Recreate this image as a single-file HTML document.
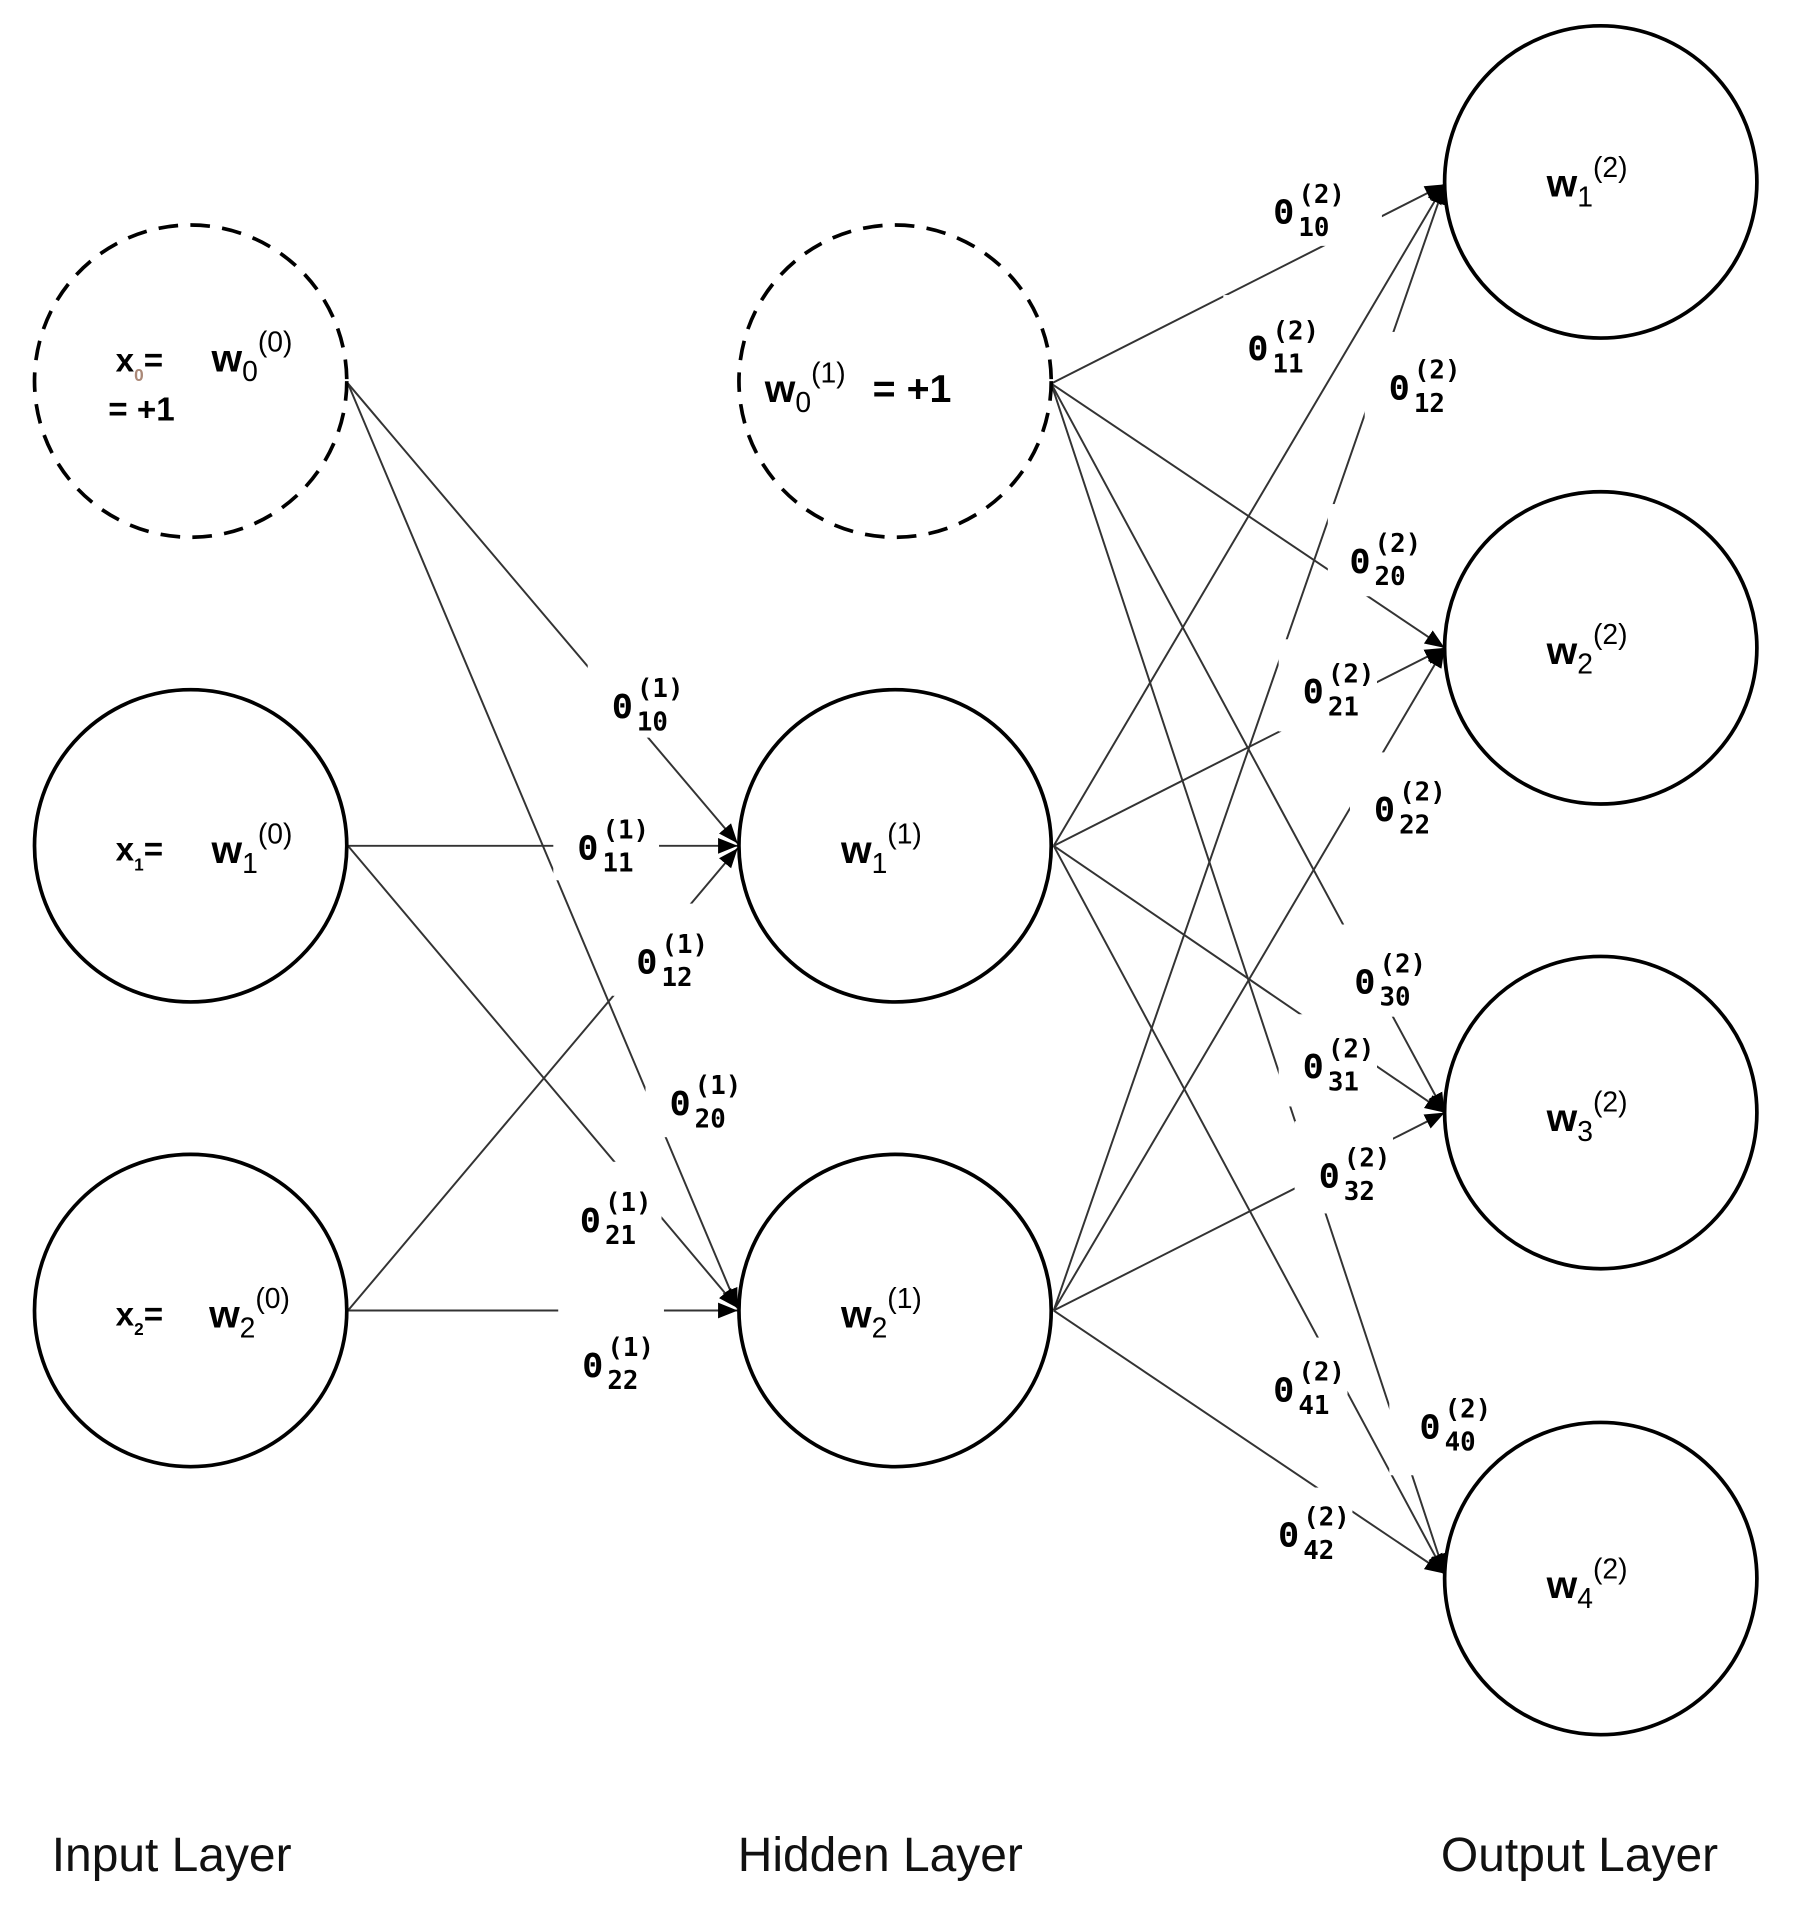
<!DOCTYPE html>
<html><head><style>html,body{margin:0;padding:0;background:#fff}svg{display:block}</style></head><body>
<svg width="1800" height="1924" viewBox="0 0 1464 1565" xmlns="http://www.w3.org/2000/svg" font-family="Liberation Sans, DejaVu Sans, sans-serif">
<defs>
<marker id="b" viewBox="0 0 10 10" refX="10" refY="5" markerWidth="16" markerHeight="16" orient="auto" markerUnits="userSpaceOnUse"><path d="M0,1 L10,5 L0,9 Z" fill="#000"/></marker></defs>
<g stroke="#333" stroke-width="1.6" fill="none">
<line x1="283" y1="312" x2="600" y2="686" marker-end="url(#b)"/>
<line x1="283" y1="312" x2="600" y2="1064" marker-end="url(#b)"/>
<line x1="283" y1="688" x2="600" y2="688" marker-end="url(#b)"/>
<line x1="283" y1="688" x2="600" y2="1064" marker-end="url(#b)"/>
<line x1="283" y1="1066" x2="600" y2="690" marker-end="url(#b)"/>
<line x1="283" y1="1066" x2="600" y2="1066" marker-end="url(#b)"/>
<line x1="855" y1="312" x2="1175" y2="150" marker-end="url(#b)"/>
<line x1="855" y1="312" x2="1175" y2="527" marker-end="url(#b)"/>
<line x1="855" y1="312" x2="1175" y2="905" marker-end="url(#b)"/>
<line x1="855" y1="312" x2="1175" y2="1280" marker-end="url(#b)"/>
<line x1="857" y1="688" x2="1175" y2="150" marker-end="url(#b)"/>
<line x1="857" y1="688" x2="1175" y2="527" marker-end="url(#b)"/>
<line x1="857" y1="688" x2="1175" y2="905" marker-end="url(#b)"/>
<line x1="857" y1="688" x2="1175" y2="1280" marker-end="url(#b)"/>
<line x1="857" y1="1066" x2="1175" y2="150" marker-end="url(#b)"/>
<line x1="857" y1="1066" x2="1175" y2="527" marker-end="url(#b)"/>
<line x1="857" y1="1066" x2="1175" y2="905" marker-end="url(#b)"/>
<line x1="857" y1="1066" x2="1175" y2="1280" marker-end="url(#b)"/>
</g>
<g fill="#fff" stroke="none">
<rect x="478" y="525" width="86" height="75"/><rect x="450" y="648" width="86" height="68"/><rect x="498" y="735" width="86" height="75"/>
<rect x="525" y="850" width="86" height="75"/><rect x="452" y="945" width="86" height="75"/><rect x="454" y="1065" width="86" height="75"/>
<rect x="1016" y="135" width="108" height="65"/><rect x="995" y="240" width="80" height="75"/><rect x="1110" y="270" width="80" height="75"/>
<rect x="1080" y="410" width="105" height="75"/><rect x="1040" y="520" width="80" height="75"/><rect x="1098" y="612" width="80" height="75"/>
<rect x="1082" y="752" width="80" height="75"/><rect x="1040" y="825" width="80" height="75"/><rect x="1053" y="912" width="80" height="75"/>
<rect x="1016" y="1088" width="80" height="75"/><rect x="1130" y="1115" width="110" height="85"/><rect x="1020" y="1210" width="80" height="75"/>
</g>
<g stroke="#000" stroke-width="3" fill="#fff">
<circle cx="155" cy="310" r="127" stroke-dasharray="16,10"/>
<circle cx="155" cy="688" r="127"/><circle cx="155" cy="1066" r="127"/>
<circle cx="728" cy="310" r="127" stroke-dasharray="16,10"/>
<circle cx="728" cy="688" r="127"/><circle cx="728" cy="1066" r="127"/>
<circle cx="1302" cy="148" r="127"/><circle cx="1302" cy="527" r="127"/>
<circle cx="1302" cy="905" r="127"/><circle cx="1302" cy="1284" r="127"/>
</g>
<g font-size="32" fill="#000" font-weight="bold">
<text x="94" y="302" font-size="27">x<tspan font-size="14" dy="8" fill="#a87">0</tspan><tspan dy="-8">=</tspan></text>
<text x="88" y="342" font-size="27">= +1</text>
<text x="94" y="700" font-size="27">x<tspan font-size="14" dy="8">1</tspan><tspan dy="-8">=</tspan></text>
<text x="94" y="1078" font-size="27">x<tspan font-size="14" dy="8">2</tspan><tspan dy="-8">=</tspan></text>
<text x="172" y="302">w<tspan font-size="23" font-weight="normal" dy="8">0</tspan><tspan font-size="23" font-weight="normal" dy="-24">(0)</tspan></text>
<text x="172" y="702">w<tspan font-size="23" font-weight="normal" dy="8">1</tspan><tspan font-size="23" font-weight="normal" dy="-24">(0)</tspan></text>
<text x="170" y="1080">w<tspan font-size="23" font-weight="normal" dy="8">2</tspan><tspan font-size="23" font-weight="normal" dy="-24">(0)</tspan></text>
<text x="622" y="327">w<tspan font-size="23" font-weight="normal" dy="8">0</tspan><tspan font-size="23" font-weight="normal" dy="-24">(1)</tspan><tspan dx="22" dy="16">= +1</tspan></text>
<text x="684" y="702">w<tspan font-size="23" font-weight="normal" dy="8">1</tspan><tspan font-size="23" font-weight="normal" dy="-24">(1)</tspan></text>
<text x="684" y="1080">w<tspan font-size="23" font-weight="normal" dy="8">2</tspan><tspan font-size="23" font-weight="normal" dy="-24">(1)</tspan></text>
<text x="1258" y="160">w<tspan font-size="23" font-weight="normal" dy="8">1</tspan><tspan font-size="23" font-weight="normal" dy="-24">(2)</tspan></text>
<text x="1258" y="540">w<tspan font-size="23" font-weight="normal" dy="8">2</tspan><tspan font-size="23" font-weight="normal" dy="-24">(2)</tspan></text>
<text x="1258" y="920">w<tspan font-size="23" font-weight="normal" dy="8">3</tspan><tspan font-size="23" font-weight="normal" dy="-24">(2)</tspan></text>
<text x="1258" y="1300">w<tspan font-size="23" font-weight="normal" dy="8">4</tspan><tspan font-size="23" font-weight="normal" dy="-24">(2)</tspan></text>
</g>
<g font-family="DejaVu Sans Mono, Liberation Mono, monospace" fill="#000" font-weight="bold">
<text x="498" y="584" font-size="27">Θ</text><text x="518" y="567" font-size="21">(1)</text><text x="518" y="594" font-size="21">10</text>
<text x="470" y="699" font-size="27">Θ</text><text x="490" y="682" font-size="21">(1)</text><text x="490" y="709" font-size="21">11</text>
<text x="518" y="792" font-size="27">Θ</text><text x="538" y="775" font-size="21">(1)</text><text x="538" y="802" font-size="21">12</text>
<text x="545" y="907" font-size="27">Θ</text><text x="565" y="890" font-size="21">(1)</text><text x="565" y="917" font-size="21">20</text>
<text x="472" y="1002" font-size="27">Θ</text><text x="492" y="985" font-size="21">(1)</text><text x="492" y="1012" font-size="21">21</text>
<text x="474" y="1120" font-size="27">Θ</text><text x="494" y="1103" font-size="21">(1)</text><text x="494" y="1130" font-size="21">22</text>
<text x="1036" y="182" font-size="27">Θ</text><text x="1056" y="165" font-size="21">(2)</text><text x="1056" y="192" font-size="21">10</text>
<text x="1015" y="293" font-size="27">Θ</text><text x="1035" y="276" font-size="21">(2)</text><text x="1035" y="303" font-size="21">11</text>
<text x="1130" y="325" font-size="27">Θ</text><text x="1150" y="308" font-size="21">(2)</text><text x="1150" y="335" font-size="21">12</text>
<text x="1098" y="466" font-size="27">Θ</text><text x="1118" y="449" font-size="21">(2)</text><text x="1118" y="476" font-size="21">20</text>
<text x="1060" y="572" font-size="27">Θ</text><text x="1080" y="555" font-size="21">(2)</text><text x="1080" y="582" font-size="21">21</text>
<text x="1118" y="668" font-size="27">Θ</text><text x="1138" y="651" font-size="21">(2)</text><text x="1138" y="678" font-size="21">22</text>
<text x="1102" y="808" font-size="27">Θ</text><text x="1122" y="791" font-size="21">(2)</text><text x="1122" y="818" font-size="21">30</text>
<text x="1060" y="877" font-size="27">Θ</text><text x="1080" y="860" font-size="21">(2)</text><text x="1080" y="887" font-size="21">31</text>
<text x="1073" y="966" font-size="27">Θ</text><text x="1093" y="949" font-size="21">(2)</text><text x="1093" y="976" font-size="21">32</text>
<text x="1036" y="1140" font-size="27">Θ</text><text x="1056" y="1123" font-size="21">(2)</text><text x="1056" y="1150" font-size="21">41</text>
<text x="1155" y="1170" font-size="27">Θ</text><text x="1175" y="1153" font-size="21">(2)</text><text x="1175" y="1180" font-size="21">40</text>
<text x="1040" y="1258" font-size="27">Θ</text><text x="1060" y="1241" font-size="21">(2)</text><text x="1060" y="1268" font-size="21">42</text>
</g>
<g font-size="39" fill="#111">
<text x="42" y="1522">Input Layer</text>
<text x="600" y="1522">Hidden Layer</text>
<text x="1172" y="1522">Output Layer</text>
</g>
</svg>
</body></html>
